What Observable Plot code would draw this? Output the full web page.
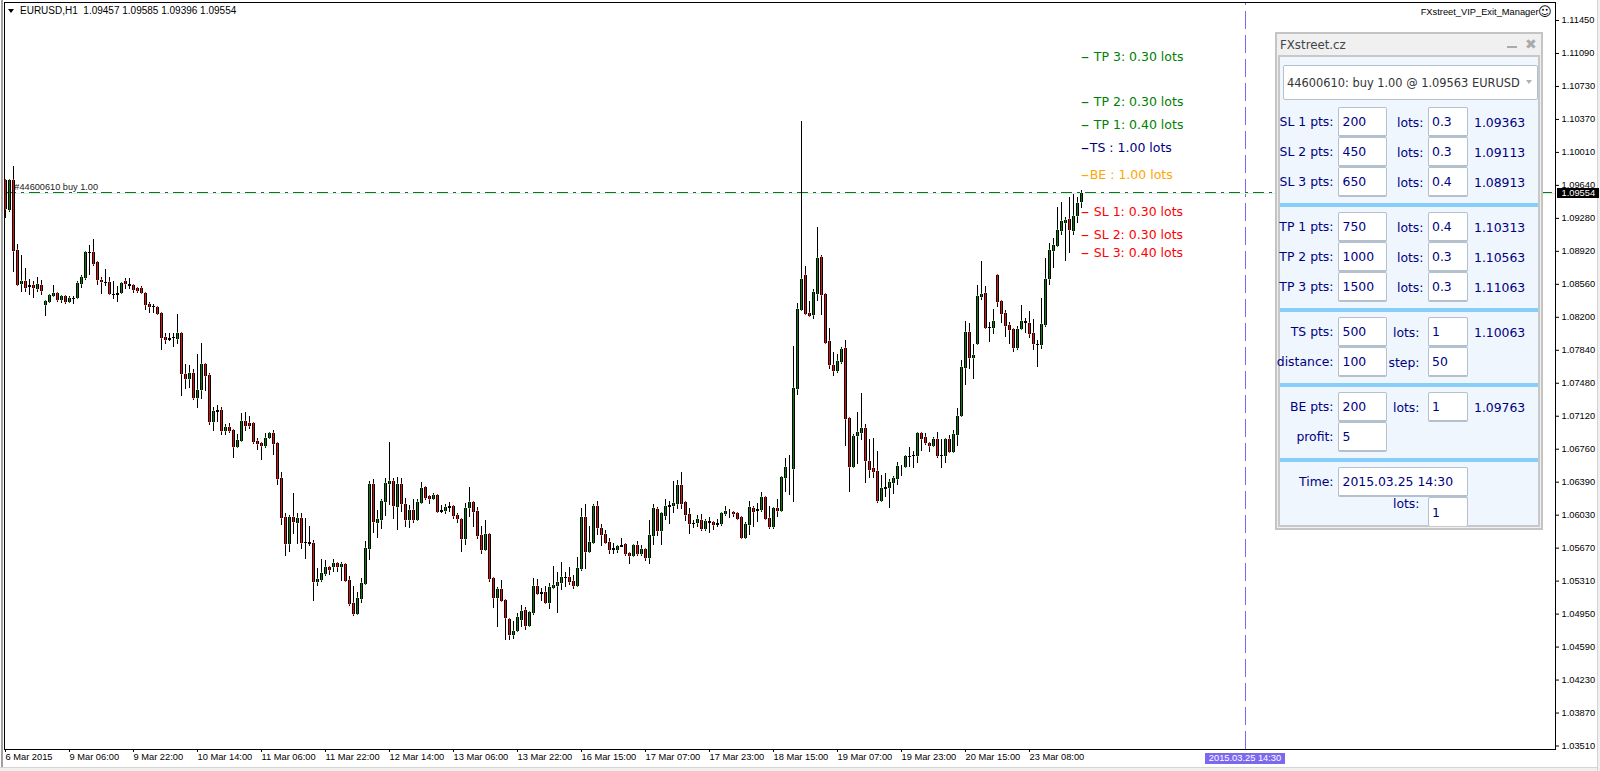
<!DOCTYPE html>
<html>
<head>
<meta charset="utf-8">
<script src="https://cdn.jsdelivr.net/npm/d3@7"></script>
<script src="https://cdn.jsdelivr.net/npm/@observablehq/plot@0.6"></script>
<style>
html,body{margin:0;padding:0;background:#fff;overflow:hidden}
#wrap{position:relative;width:1600px;height:771px;overflow:hidden}
#wrap svg{display:block;position:absolute;left:0;top:0}
.a{position:absolute;white-space:pre;box-sizing:border-box}
.t{font-family:"Liberation Sans",sans-serif;font-size:9.3px;color:#000;line-height:10px}
.p{font-family:"DejaVu Sans",sans-serif;font-size:12.4px;color:#000080;line-height:16px}
.box{background:#fff;border:1px solid #b4c0cc;border-bottom-width:2px;border-radius:2px}
</style>
</head>
<body>
<div id="wrap"></div>
<script>
// EURUSD H1 candles, one entry per hourly bar
const opens = [1.09699,1.0937,1.09699,1.08932,1.08563,1.08589,1.0853,1.08549,1.08509,1.08545,
1.08326,1.08363,1.08432,1.08461,1.08385,1.08428,1.08366,1.08399,1.08403,1.08563,
1.08629,1.0891,1.08906,1.08797,1.086,1.08578,1.08578,1.0845,1.08457,1.08465,
1.08592,1.08556,1.08549,1.08516,1.08516,1.08461,1.08341,1.08319,1.08308,1.08242,
1.07979,1.0795,1.07965,1.07961,1.08024,1.07572,1.07524,1.07583,1.07316,1.07396,
1.07681,1.07561,1.07053,1.07163,1.07177,1.06955,1.06991,1.06958,1.0678,1.06845,
1.07057,1.07035,1.07035,1.06838,1.06816,1.0679,1.06871,1.06926,1.06816,1.06433,
1.06006,1.05717,1.06006,1.05947,1.05995,1.05732,1.05732,1.05721,1.05301,1.05323,
1.05389,1.05458,1.05458,1.05502,1.05465,1.05491,1.05316,1.05064,1.04951,1.05115,
1.05272,1.05663,1.06367,1.05947,1.0598,1.06177,1.06374,1.064,1.06122,1.06367,
1.06148,1.0598,1.06082,1.05973,1.06166,1.06334,1.06236,1.06206,1.06246,1.06086,
1.06078,1.06111,1.06126,1.06027,1.05983,1.05772,1.06111,1.06169,1.06071,1.05808,
1.05651,1.05819,1.05337,1.05126,1.05217,1.051,1.04892,1.0472,1.04761,1.04885,
1.04987,1.04819,1.04961,1.0525,1.05184,1.05184,1.05071,1.05235,1.05257,1.0529,
1.05345,1.05348,1.05304,1.05257,1.05443,1.06005,1.05629,1.05728,1.06129,1.05885,
1.05819,1.05731,1.05666,1.05651,1.05684,1.0571,1.05611,1.05582,1.05699,1.05607,
1.05655,1.05564,1.05804,1.06093,1.05859,1.06023,1.06122,1.06133,1.06155,1.06356,
1.06169,1.06038,1.05943,1.05943,1.05972,1.05877,1.05947,1.0595,1.0594,1.05932,
1.06045,1.06071,1.06067,1.06049,1.06005,1.05783,1.05925,1.06111,1.06078,1.06089,
1.06224,1.05995,1.059,1.06108,1.06079,1.0644,1.06553,1.06531,1.07407,1.08275,
1.08655,1.08239,1.08224,1.08454,1.08856,1.08447,1.07932,1.07669,1.07611,1.0771,
1.07856,1.0709,1.06557,1.06896,1.06932,1.0698,1.06619,1.06542,1.06509,1.06188,
1.06319,1.0633,1.06378,1.06429,1.06553,1.06557,1.0667,1.06677,1.06681,1.06925,
1.06881,1.06823,1.0679,1.0686,1.06684,1.06681,1.0686,1.06721,1.06911,1.07119,
1.07644,1.08031,1.07754,1.07907,1.08421,1.08458,1.08085,1.08082,1.08655,1.08378,
1.08239,1.08107,1.08064,1.07863,1.08067,1.08151,1.08137,1.0802,1.07903,1.07896,
1.08115,1.08618,1.08925,1.0898,1.09144,1.09231,1.09268,1.09144,1.09308,1.09457];
const closes = [1.09377,1.09699,1.08925,1.08552,1.08592,1.08519,1.08549,1.08519,1.08556,1.08487,
1.08374,1.08439,1.08457,1.08388,1.08428,1.08366,1.08406,1.08406,1.08571,1.08633,
1.0891,1.08903,1.08782,1.086,1.08578,1.08571,1.08447,1.08443,1.08443,1.08574,
1.08556,1.08541,1.08498,1.08487,1.08465,1.08333,1.08311,1.08308,1.08235,1.07972,
1.0795,1.07968,1.07979,1.08023,1.07572,1.07524,1.07583,1.07316,1.07396,1.07681,
1.07557,1.07053,1.07166,1.07181,1.06955,1.06995,1.06955,1.0678,1.06849,1.07057,
1.0701,1.07006,1.06834,1.06812,1.0679,1.06871,1.06926,1.06812,1.06429,1.06002,
1.05717,1.06006,1.05951,1.05995,1.05728,1.05725,1.05714,1.05301,1.05327,1.05393,
1.05458,1.05433,1.05502,1.05458,1.05495,1.05312,1.0506,1.04951,1.05119,1.05283,
1.05666,1.06367,1.05951,1.05984,1.06181,1.06378,1.064,1.06126,1.06367,1.06148,
1.0598,1.06082,1.05973,1.0617,1.06323,1.06217,1.0621,1.06254,1.06067,1.06064,
1.06115,1.06129,1.06023,1.05987,1.05772,1.06104,1.06169,1.06067,1.05804,1.05651,
1.05819,1.05334,1.05126,1.05217,1.05093,1.04907,1.0472,1.04757,1.0491,1.04976,
1.04819,1.04965,1.0525,1.05169,1.05166,1.05071,1.05239,1.05261,1.05294,1.05348,
1.05352,1.05301,1.05257,1.05447,1.06005,1.05629,1.05731,1.06129,1.05892,1.05815,
1.05728,1.05651,1.05651,1.05688,1.05699,1.05604,1.05585,1.05699,1.05604,1.05655,
1.05564,1.05808,1.06104,1.05859,1.06049,1.06126,1.0614,1.06158,1.06359,1.06155,
1.06031,1.05936,1.05936,1.05983,1.05877,1.05965,1.05961,1.05925,1.05921,1.06049,
1.06071,1.06078,1.06042,1.05991,1.05783,1.05929,1.06115,1.06067,1.06096,1.06224,
1.05987,1.059,1.06108,1.06079,1.06451,1.06553,1.06557,1.07418,1.08283,1.08611,
1.08235,1.08213,1.08469,1.08841,1.08443,1.07918,1.07673,1.07611,1.07714,1.07845,
1.07086,1.06561,1.06893,1.06936,1.0698,1.06626,1.06528,1.06506,1.06188,1.06323,
1.06334,1.06393,1.06433,1.06564,1.06561,1.06674,1.06674,1.06684,1.06925,1.06867,
1.06823,1.0679,1.0686,1.06681,1.06677,1.0686,1.06721,1.06914,1.07119,1.07648,
1.08031,1.07754,1.07779,1.08425,1.08447,1.08082,1.08078,1.08151,1.08367,1.08235,
1.08104,1.0806,1.07863,1.08071,1.08151,1.08137,1.08016,1.079,1.07896,1.08119,
1.08611,1.08929,1.08983,1.09148,1.09246,1.09257,1.09148,1.09301,1.09443,1.09554];
const highs = [1.09706,1.09706,1.09852,1.08994,1.08874,1.08735,1.08611,1.08592,1.08636,1.08604,
1.08385,1.0845,1.08549,1.08472,1.08439,1.08439,1.08428,1.08432,1.08589,1.08662,
1.08914,1.08987,1.09052,1.08808,1.08636,1.08724,1.0864,1.08592,1.08538,1.08585,
1.08622,1.08625,1.0856,1.0853,1.08538,1.08476,1.08363,1.08341,1.08319,1.08253,
1.08027,1.0802,1.0802,1.08231,1.08031,1.07685,1.07674,1.07626,1.07794,1.07911,
1.07692,1.07583,1.0721,1.07236,1.07217,1.07024,1.07035,1.06962,1.06918,1.07144,
1.07155,1.07115,1.0705,1.06874,1.06831,1.06926,1.06944,1.06962,1.06831,1.06498,
1.06053,1.06031,1.06268,1.06057,1.06057,1.05995,1.05911,1.05754,1.05451,1.05549,
1.05542,1.05473,1.05549,1.05517,1.05513,1.05502,1.05363,1.05254,1.05188,1.05341,
1.0575,1.06407,1.06425,1.06082,1.06203,1.06433,1.06831,1.06436,1.06444,1.06433,
1.06217,1.06141,1.06206,1.06203,1.06393,1.06342,1.06243,1.06268,1.0625,1.0614,
1.06151,1.06169,1.06129,1.06049,1.05987,1.06158,1.06337,1.06177,1.06115,1.05907,
1.05976,1.05823,1.05341,1.05239,1.05319,1.05107,1.04899,1.0487,1.04961,1.05042,
1.0502,1.04969,1.05337,1.0533,1.05228,1.05253,1.05282,1.05476,1.0541,1.05516,
1.05407,1.05458,1.05377,1.05571,1.06104,1.06151,1.0591,1.06151,1.06184,1.05929,
1.05866,1.05783,1.05721,1.05702,1.05779,1.05721,1.05611,1.05702,1.05746,1.05699,
1.05666,1.05976,1.06151,1.06115,1.06064,1.06206,1.06184,1.06407,1.0641,1.06502,
1.06173,1.06104,1.05976,1.06031,1.06042,1.05983,1.06005,1.05958,1.05987,1.06067,
1.06129,1.061,1.06078,1.06049,1.06009,1.05954,1.06184,1.06129,1.06158,1.06283,
1.06239,1.0613,1.06123,1.06207,1.06458,1.06652,1.06688,1.07881,1.08349,1.10344,
1.08757,1.08374,1.08505,1.09184,1.08878,1.0845,1.08075,1.07816,1.07794,1.07874,
1.07947,1.07093,1.06918,1.07159,1.07367,1.07028,1.06863,1.06874,1.06732,1.06469,
1.06488,1.06422,1.06462,1.06612,1.06575,1.06688,1.0678,1.06732,1.06944,1.06936,
1.06925,1.06834,1.06889,1.0694,1.0686,1.0686,1.06907,1.06962,1.07203,1.07728,
1.08155,1.08129,1.07903,1.08549,1.08812,1.08538,1.08144,1.08286,1.08666,1.08381,
1.08275,1.0814,1.08067,1.081,1.0833,1.08188,1.08264,1.08177,1.07947,1.08407,
1.08845,1.09013,1.0906,1.09403,1.09458,1.09297,1.09509,1.09545,1.09516,1.09585];
const lows = [1.09286,1.09352,1.08695,1.08545,1.08476,1.08476,1.08439,1.08403,1.08476,1.08439,
1.08213,1.08348,1.08421,1.08366,1.08355,1.08341,1.08355,1.08341,1.08399,1.08519,
1.08604,1.08658,1.0876,1.08552,1.08454,1.08541,1.08439,1.08392,1.08366,1.08457,
1.08509,1.08509,1.08465,1.08457,1.0845,1.08275,1.08238,1.08238,1.08227,1.07841,
1.07906,1.07936,1.07874,1.07906,1.07338,1.07411,1.07426,1.07291,1.07207,1.07305,
1.07393,1.07017,1.06955,1.0705,1.06907,1.06907,1.06926,1.06659,1.06776,1.06842,
1.06951,1.06977,1.06809,1.06743,1.06637,1.06765,1.0686,1.06688,1.0636,1.05925,
1.05582,1.0563,1.05823,1.05714,1.05663,1.05553,1.05692,1.05093,1.05257,1.05298,
1.05367,1.05374,1.05411,1.05407,1.05312,1.05298,1.05035,1.04929,1.04951,1.05071,
1.05265,1.05538,1.05838,1.05783,1.05874,1.06024,1.06144,1.05991,1.05867,1.0606,
1.05904,1.05889,1.05947,1.05969,1.06159,1.06195,1.06152,1.06195,1.06067,1.06053,
1.06042,1.06064,1.05991,1.05947,1.05626,1.05702,1.06012,1.05899,1.05772,1.05604,
1.05647,1.05297,1.05012,1.04808,1.05082,1.04662,1.04662,1.04673,1.04753,1.04808,
1.04771,1.04815,1.04936,1.05162,1.05089,1.05056,1.05001,1.05224,1.04961,1.0521,
1.05239,1.05268,1.0522,1.05246,1.05418,1.05439,1.05615,1.05724,1.05812,1.05691,
1.05717,1.05604,1.05604,1.05615,1.0568,1.05585,1.05494,1.05571,1.05582,1.05585,
1.05527,1.05494,1.05702,1.05801,1.05702,1.05976,1.05932,1.06056,1.061,1.06096,
1.05965,1.05826,1.05885,1.05896,1.05859,1.05859,1.05834,1.0587,1.05903,1.05914,
1.06023,1.05998,1.06012,1.05991,1.05783,1.05783,1.05812,1.05903,1.05954,1.06067,
1.05976,1.05882,1.05882,1.06013,1.06068,1.06283,1.0625,1.06174,1.07345,1.08261,
1.08232,1.0821,1.08177,1.08374,1.08221,1.07903,1.07633,1.07557,1.07586,1.07684,
1.06787,1.06283,1.06546,1.0659,1.06852,1.06385,1.06437,1.06437,1.06166,1.06177,
1.06232,1.06108,1.06265,1.06363,1.06458,1.0655,1.06561,1.06542,1.06604,1.06732,
1.06798,1.06725,1.06779,1.06652,1.06549,1.06597,1.06714,1.06714,1.0679,1.07115,
1.07458,1.07633,1.07524,1.07907,1.08388,1.08082,1.07929,1.08013,1.08312,1.08137,
1.07983,1.07907,1.07819,1.07841,1.08056,1.0802,1.07973,1.07838,1.07655,1.07848,
1.08086,1.08549,1.08735,1.08976,1.091,1.08815,1.08903,1.091,1.09232,1.09396];

// price axis
const priceTicks = [1.1145,1.1109,1.1073,1.1037,1.1001,1.0964,1.0928,1.0892,1.0856,1.082,1.0784,1.0748,1.0712,1.0676,1.0639,1.0603,1.0567,1.0531,1.0495,1.0459,1.0423,1.0387,1.0351];
const priceTickPositions = [1.1145,1.11089,1.10728,1.10367,1.10006,1.09645,1.09284,1.08923,1.08562,1.08201,1.0784,1.07479,1.07118,1.06757,1.06396,1.06035,1.05674,1.05313,1.04952,1.04591,1.0423,1.03869,1.03508];
// time axis
const timeLabels = ["6 Mar 2015","9 Mar 06:00","9 Mar 22:00","10 Mar 14:00","11 Mar 06:00","11 Mar 22:00","12 Mar 14:00","13 Mar 06:00","13 Mar 22:00","16 Mar 15:00","17 Mar 07:00","17 Mar 23:00","18 Mar 15:00","19 Mar 07:00","19 Mar 23:00","20 Mar 15:00","23 Mar 08:00"];
const barsPerLabel = 16;
// order levels
const levelNames = ["TP 3: 0.30 lots","TP 2: 0.30 lots","TP 1: 0.40 lots","TS : 1.00 lots","BE : 1.00 lots","SL 1: 0.30 lots","SL 2: 0.30 lots","SL 3: 0.40 lots"];
const levelPrices = [1.11063,1.10563,1.10313,1.10063,1.09763,1.09363,1.09113,1.08913];
const levelColors = ["#008000","#008000","#008000","#000080","#FFA500","#FF0000","#FF0000","#FF0000"];
const levelNameBars = [272.07,272.07,272.07,271.07,271.07,272.07,272.07,272.07];
const orderPrice = 1.09563, bidPrice = 1.09554, timeBar = 310, labelBar = 268.9;

const bars = opens.map((o,i)=>({i,o,c:closes[i],h:highs[i],l:lows[i]}));
const levels = levelNames.map((name,k)=>({name,price:levelPrices[k],color:levelColors[k],bar:levelNameBars[k]}));
const xTicks = timeLabels.map((_,k)=>k*barsPerLabel);
const GREEN="#0a7a0a", RED="#e80d0d";

const chart = Plot.plot({
  width:1600,height:771,marginLeft:4,marginRight:45,marginTop:2,marginBottom:22,
  style:{fontFamily:'"Liberation Sans",sans-serif',fontSize:"9.3px",color:"#000",background:"#fff"},
  x:{type:"linear",domain:[0,387.5],range:[5,1555],axis:null},
  y:{type:"linear",domain:[1.034698,1.11647],range:[749,2],axis:null},
  marks:[
    Plot.ruleX([timeBar],{stroke:"#7B68EE",strokeDasharray:"18,6",y1:1.034698,y2:1.11647}),
    Plot.ruleY([bidPrice],{stroke:"#E6E6FA",x1:-0.125,x2:387.4,shapeRendering:"crispEdges"}),
    Plot.ruleY([orderPrice],{stroke:"#008000",strokeDasharray:"11,5,3,5",x1:-0.125,x2:387.4,shapeRendering:"crispEdges"}),
    // wicks
    Plot.ruleX(bars,{x:"i",y1:"l",y2:"h",stroke:"#000",strokeWidth:1,shapeRendering:"crispEdges"}),
    // bodies: black case with a coloured core
    Plot.ruleX(bars,{x:"i",y1:d=>Math.min(d.o,d.c),y2:d=>Math.max(d.o,d.c),stroke:"#000",strokeWidth:3,shapeRendering:"crispEdges"}),
    Plot.ruleX(bars,{filter:d=>Math.abs(d.o-d.c)>0.00022,x:"i",y1:d=>Math.min(d.o,d.c),y2:d=>Math.max(d.o,d.c),insetTop:1,insetBottom:1,stroke:d=>d.c>=d.o?GREEN:RED,strokeWidth:1,shapeRendering:"crispEdges"}),
    Plot.text(levels,{x:labelBar,y:"price",text:()=>"–",fill:"color",textAnchor:"start",dy:0.7,fontSize:16,fontFamily:'"DejaVu Sans",sans-serif'}),
    Plot.text(levels,{x:"bar",y:"price",text:"name",fill:"color",textAnchor:"start",dy:0.7,fontSize:12.5,fontFamily:'"DejaVu Sans",sans-serif'}),
    Plot.text(["#44600610 buy 1.00"],{x:2.2,y:1.09631,textAnchor:"start",fill:"#222",fontSize:9.2}),
    Plot.frame({stroke:"#000"}),
    Plot.axisY(priceTickPositions,{anchor:"right",tickSize:3,tickPadding:3,tickFormat:(d,k)=>priceTicks[k].toFixed(5),label:null}),
    Plot.axisX(xTicks,{anchor:"bottom",tickSize:3,tickPadding:1,textAnchor:"start",tickFormat:(d,k)=>timeLabels[k],label:null})
  ]
});
const wrap=document.getElementById("wrap");
wrap.appendChild(chart);

function el(cls,css,text){const d=document.createElement("div");d.className="a "+cls;d.style.cssText=css;if(text!=null)d.textContent=text;wrap.appendChild(d);return d}
// window edges
el("","left:1px;top:0;width:2px;height:768px;background:#a0a0a0");
el("","left:0;top:767px;width:1600px;height:4px;background:#f0f0f0;border-top:1px solid #d4d4d4");
el("","left:1597px;top:0;width:3px;height:771px;background:#f0f0f0;border-left:1px solid #d4d4d4");
// header
el("","left:8px;top:9px;width:0;height:0;border-left:3.5px solid transparent;border-right:3.5px solid transparent;border-top:4px solid #000");
el("t","left:20px;top:6px;font-size:10px","EURUSD,H1  1.09457 1.09585 1.09396 1.09554");
el("t","left:1420.7px;top:7px","FXstreet_VIP_Exit_Manager");
el("t","left:1538px;top:4px;font-family:'DejaVu Sans';font-size:13px;line-height:16px","☺");
// price and time tags
el("t","left:1556.5px;top:187.5px;width:42px;height:10px;background:#000;color:#fff;padding-left:5px","1.09554");
el("t","left:1205px;top:753px;width:80px;height:11px;background:#7B68EE;color:#fff;text-align:center;line-height:11px","2015.03.25 14:30");

// trade panel
const panelRows=[
 {label:"SL 1 pts:",y:107,v:"200",lotsLabel:"lots:",lots:"0.3",price:"1.09363"},
 {label:"SL 2 pts:",y:137,v:"450",lotsLabel:"lots:",lots:"0.3",price:"1.09113"},
 {label:"SL 3 pts:",y:167,v:"650",lotsLabel:"lots:",lots:"0.4",price:"1.08913"},
 {label:"TP 1 pts:",y:212,v:"750",lotsLabel:"lots:",lots:"0.4",price:"1.10313"},
 {label:"TP 2 pts:",y:242,v:"1000",lotsLabel:"lots:",lots:"0.3",price:"1.10563"},
 {label:"TP 3 pts:",y:272,v:"1500",lotsLabel:"lots:",lots:"0.3",price:"1.11063"},
 {label:"TS pts:",y:317,v:"500",lotsLabel:"lots:",lots:"1",price:"1.10063",inner:1},
 {label:"distance:",y:347,v:"100",lotsLabel:"step:",lots:"50",inner:1},
 {label:"BE pts:",y:392,v:"200",lotsLabel:"lots:",lots:"1",price:"1.09763",inner:1},
 {label:"profit:",y:422,v:"5"}
];
el("","left:1275px;top:32px;width:268px;height:498px;background:#f0f0f0;border:2px solid #c4c4c4");
el("","left:1278px;top:55px;width:262px;height:472px;background:#eff6fe;border:2px solid #c8c8c8");
el("p","left:1280px;top:37px;color:#444;font-size:11.8px","FXstreet.cz");
el("","left:1507px;top:46px;width:10px;height:2px;background:#aaa");
el("p","left:1525px;top:36px;color:#aaa;font-size:14px;font-weight:bold","✖");
el("box","left:1283px;top:65px;width:255px;height:35px;border-bottom-width:1px");
el("p","left:1287px;top:75px;color:#333;font-size:11.4px","44600610: buy 1.00 @ 1.09563 EURUSD");
el("","left:1526px;top:80px;width:0;height:0;border-left:3.5px solid transparent;border-right:3.5px solid transparent;border-top:4px solid #b0b0b0");
[203,308,383,458].forEach(y=>el("","left:1280px;top:"+y+"px;width:258px;height:4px;background:#87CEFA"));
panelRows.forEach(r=>{
  const ty=r.y+7;
  el("p","right:"+(1600-1333.5)+"px;top:"+ty+"px",r.label);
  el("box","left:1338px;top:"+r.y+"px;width:49px;height:30px");
  el("p","left:1342.5px;top:"+ty+"px",r.v);
  if(r.lots){
    el("p","right:"+(1600-(r.inner?1419.5:1423.5))+"px;top:"+(ty+1)+"px",r.lotsLabel);
    el("box","left:1428px;top:"+r.y+"px;width:40px;height:30px");
    el("p","left:1432px;top:"+ty+"px",r.lots);
  }
  if(r.price) el("p","left:1474px;top:"+(ty+1)+"px",r.price);
});
el("p","right:"+(1600-1333.5)+"px;top:474px","Time:");
el("box","left:1338px;top:467px;width:130px;height:30px");
el("p","left:1342.5px;top:474px","2015.03.25 14:30");
el("p","right:"+(1600-1419.5)+"px;top:496px","lots:");
el("box","left:1428px;top:497px;width:40px;height:29px;border-bottom:none");
el("p","left:1432px;top:505px","1");
</script>
</body>
</html>
